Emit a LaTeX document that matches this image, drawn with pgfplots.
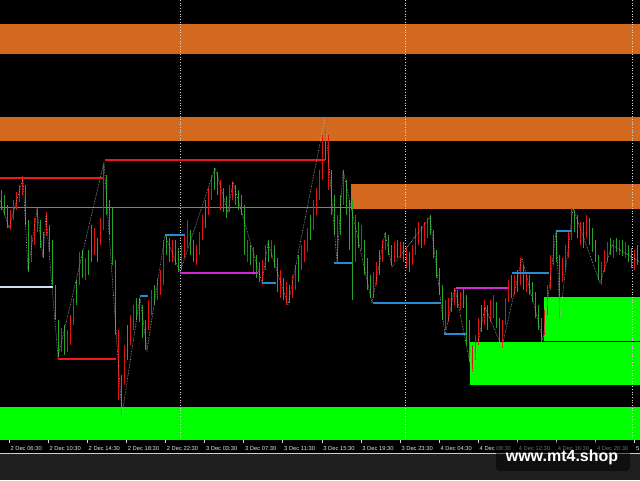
\documentclass[border=0pt]{standalone}
\usepackage{pgfplots}
\pgfplotsset{compat=1.18}
\usepackage{pgfplotstable}
\usepackage{fontspec}
\setmainfont{Liberation Sans}
\definecolor{orangeZ}{RGB}{210,105,30}
\definecolor{limeZ}{RGB}{0,255,0}
\definecolor{cRed}{RGB}{225,20,20}
\definecolor{cGreen}{RGB}{35,165,35}
\definecolor{lvlRed}{RGB}{235,25,25}
\definecolor{lvlBlue}{RGB}{40,140,210}
\definecolor{lvlMag}{RGB}{210,40,210}
\definecolor{lvlLight}{RGB}{200,225,235}
\definecolor{stripGray}{RGB}{31,31,31}

% candles: x, top (pixel y), bottom (pixel y), c=1 red / 0 green
\pgfplotstableread{
x t b c
1.5 190 210 0
4.5 195 215 0
7.5 205 228 0
10.5 210 230 1
13.5 200 220 1
16.5 192 210 1
19.5 185 202 1
22.5 176 195 1
25.5 185 225 0
28.5 220 272 0
31.5 235 262 1
34.5 218 245 1
37.5 208 232 1
40.5 220 248 0
43.5 232 258 0
46.5 212 236 1
49.5 225 252 0
52.5 240 285 0
55.5 285 320 0
58.5 320 357 0
61.5 328 352 1
64.5 325 355 0
67.5 330 352 1
70.5 315 345 1
73.5 298 325 1
76.5 280 305 0
79.5 252 285 1
82.5 250 278 0
85.5 258 280 1
88.5 250 275 0
91.5 225 262 0
94.5 228 255 1
97.5 238 262 0
100.5 218 245 1
103.5 165 230 1
106.5 175 215 0
109.5 200 235 0
112.5 207 265 0
115.5 260 335 0
118.5 330 400 1
121.5 375 415 0
124.5 345 385 1
127.5 325 360 0
130.5 315 345 1
133.5 305 330 1
136.5 298 320 0
139.5 298 322 0
142.5 305 338 0
145.5 320 350 0
148.5 300 330 1
151.5 290 315 1
154.5 285 305 0
157.5 278 300 1
160.5 270 295 1
163.5 240 285 1
166.5 235 255 0
169.5 238 262 0
172.5 240 262 1
175.5 240 265 0
178.5 248 272 0
181.5 245 270 1
184.5 235 258 1
187.5 220 248 1
190.5 230 255 0
193.5 240 262 0
196.5 245 265 1
199.5 232 255 1
202.5 215 240 1
205.5 200 228 0
208.5 188 215 1
211.5 175 200 1
214.5 168 190 0
217.5 172 195 0
220.5 180 210 1
223.5 188 212 0
226.5 196 218 0
229.5 185 212 1
232.5 182 200 1
235.5 185 205 0
238.5 190 210 0
241.5 195 215 0
244.5 205 255 0
247.5 240 262 1
250.5 245 265 0
253.5 247 275 1
256.5 255 278 0
259.5 262 282 0
262.5 260 285 1
265.5 245 270 1
268.5 240 262 0
271.5 240 258 1
274.5 245 268 0
277.5 258 292 0
280.5 270 298 1
283.5 278 300 0
286.5 282 305 1
289.5 285 303 0
292.5 275 298 1
295.5 265 290 1
298.5 255 282 0
301.5 245 270 1
304.5 240 262 1
307.5 228 252 1
310.5 215 240 0
313.5 200 230 1
316.5 188 215 1
319.5 170 200 1
322.5 135 180 1
325.5 118 160 0
328.5 135 190 1
331.5 170 215 0
334.5 195 235 0
337.5 215 262 1
340.5 195 235 0
343.5 170 205 1
346.5 180 215 0
349.5 200 250 0
352.5 200 300 0
355.5 215 262 1
358.5 222 248 0
361.5 225 250 1
364.5 240 275 0
367.5 258 290 0
370.5 275 298 0
373.5 272 298 1
376.5 262 285 1
379.5 250 275 0
382.5 240 262 1
385.5 232 250 1
388.5 235 255 0
391.5 245 265 0
394.5 242 262 1
397.5 240 258 0
400.5 242 258 1
403.5 242 262 0
406.5 248 268 1
409.5 252 272 0
412.5 245 265 1
415.5 228 255 1
418.5 222 245 1
421.5 226 248 0
424.5 222 245 1
427.5 218 238 1
430.5 215 235 0
433.5 230 258 0
436.5 250 278 0
439.5 268 295 0
442.5 285 320 0
445.5 300 330 1
448.5 298 322 1
451.5 292 312 0
454.5 288 305 1
457.5 290 308 0
460.5 292 310 1
463.5 288 308 0
466.5 295 345 0
469.5 320 362 0
472.5 345 372 1
475.5 335 360 1
478.5 318 345 1
481.5 305 332 0
484.5 300 325 1
487.5 305 330 0
490.5 300 322 1
493.5 295 318 1
496.5 302 328 0
499.5 318 342 0
502.5 320 348 1
505.5 298 325 1
508.5 280 302 1
511.5 275 298 0
514.5 275 295 1
517.5 270 292 0
520.5 258 285 1
523.5 265 290 0
526.5 272 292 1
529.5 275 295 0
532.5 282 302 0
535.5 292 318 0
538.5 305 330 0
541.5 318 342 0
544.5 310 335 1
547.5 285 315 1
550.5 255 290 1
553.5 235 265 1
556.5 232 262 0
559.5 255 318 0
562.5 258 282 1
565.5 245 270 1
568.5 232 258 1
571.5 208 240 1
574.5 210 232 0
577.5 215 238 0
580.5 222 245 1
583.5 222 248 0
586.5 215 238 1
589.5 218 245 0
592.5 228 252 0
595.5 240 262 0
598.5 255 280 0
601.5 262 285 1
604.5 250 272 1
607.5 242 262 1
610.5 238 255 0
613.5 240 258 1
616.5 238 252 0
619.5 240 255 1
622.5 240 256 0
625.5 242 258 1
628.5 245 262 0
631.5 248 268 0
634.5 250 270 1
637.5 245 265 0
}\candles

\begin{document}
\begin{tikzpicture}
% background of the window
\fill[black] (0,-13.5pt) rectangle (640pt,440pt);
\fill[stripGray] (0,-40pt) rectangle (640pt,-13.5pt);
\draw[white!80!black, line width=0.8pt] (0,-13.5pt) -- (640pt,-13.5pt);

\begin{axis}[
  at={(0,0)}, anchor=south west,
  scale only axis, width=640pt, height=440pt,
  xmin=0, xmax=640, ymin=0, ymax=440,
  y dir=reverse,
  clip=true,
  axis line style={draw=none},
  ytick=\empty,
  xtick={9,48.1,87.2,126.3,165.4,204.5,243.6,282.7,321.8,360.9,400,439.1,478.2,517.3,556.4,595.5,634.6},
  xticklabels={2 Dec 06:30,2 Dec 10:30,2 Dec 14:30,2 Dec 18:30,2 Dec 22:30,3 Dec 03:30,3 Dec 07:30,3 Dec 11:30,3 Dec 15:30,3 Dec 19:30,3 Dec 23:30,4 Dec 04:30,4 Dec 08:30,4 Dec 12:30,4 Dec 16:30,4 Dec 20:30,5 Dec 00:30},
  xtick pos=bottom,
  tick align=outside,
  major tick length=3pt,
  xtick style={white!85!black, line width=0.5pt},
  xticklabel style={font=\fontsize{5.8}{6.5}\selectfont, text=white!88!black, anchor=west, inner sep=0.5pt, xshift=0.8pt, yshift=-5.5pt},
]
% zones
\addplot[fill=orangeZ, draw=none] coordinates {(0,24) (640,24) (640,54) (0,54)} -- cycle;
\addplot[fill=orangeZ, draw=none] coordinates {(0,117) (640,117) (640,141) (0,141)} -- cycle;
\addplot[fill=orangeZ, draw=none] coordinates {(351,184) (640,184) (640,209) (351,209)} -- cycle;
\addplot[fill=limeZ, draw=none] coordinates {(0,407) (640,407) (640,440) (0,440)} -- cycle;
\addplot[fill=limeZ, draw=none] coordinates {(470,341.5) (640,341.5) (640,385) (470,385)} -- cycle;
\addplot[fill=limeZ, draw=none] coordinates {(544,297) (640,297) (640,340.5) (544,340.5)} -- cycle;
% day separators
\addplot[white!85!black, dotted, line width=0.7pt] coordinates {(180,0) (180,440)};
\addplot[white!85!black, dotted, line width=0.7pt] coordinates {(405,0) (405,440)};
\addplot[white!85!black, dotted, line width=0.7pt] coordinates {(632,0) (632,440)};
% grey horizontal line
\addplot[gray, line width=0.7pt] coordinates {(0,207) (640,207)};
% candles (high-low ranges)
\addplot[cGreen, line width=1.7pt, mark=none,
  quiver={u=0, v=\thisrow{b}-\thisrow{t}},
  restrict expr to domain={\thisrow{c}}{-0.5:0.5}]
  table[x=x, y=t] {\candles};
\addplot[cRed, line width=1.7pt, mark=none,
  quiver={u=0, v=\thisrow{b}-\thisrow{t}},
  restrict expr to domain={\thisrow{c}}{0.5:1.5}]
  table[x=x, y=t] {\candles};
% zigzag
\addplot[white!70!black, densely dotted, line width=0.6pt] coordinates {
(0,200) (9,228) (23,178) (28,270) (37,210) (43,257) (46,215) (58,357) (104,162)
(122,415) (140,297) (147,350) (165,235) (180,272) (215,168) (228,212) (233,182)
(262,283) (268,243) (288,305) (325,118) (337,262) (343,170) (372,303) (385,233)
(392,267) (430,217) (445,335) (455,288) (472,373) (485,307) (502,347) (522,258)
(543,340) (556,231) (560,317) (573,208) (600,283) (612,245) (640,262)};
% level lines
\addplot[lvlRed, line width=1.4pt] coordinates {(0,178) (103,178)};
\addplot[lvlRed, line width=1.4pt] coordinates {(105,160) (325,160)};
\addplot[lvlRed, line width=1.4pt] coordinates {(58,359) (116,359)};
\addplot[lvlLight, line width=1.6pt] coordinates {(0,287) (53,287)};
\addplot[lvlMag, line width=1.4pt] coordinates {(180,273) (258,273)};
\addplot[lvlMag, line width=1.4pt] coordinates {(456,288) (508,288)};
\addplot[lvlBlue, line width=1.4pt] coordinates {(165,235) (185,235)};
\addplot[lvlBlue, line width=1.4pt] coordinates {(140,296) (148,296)};
\addplot[lvlBlue, line width=1.4pt] coordinates {(334,263) (352,263)};
\addplot[lvlBlue, line width=1.4pt] coordinates {(262,283) (276,283)};
\addplot[lvlBlue, line width=1.4pt] coordinates {(373,303) (441,303)};
\addplot[lvlBlue, line width=1.4pt] coordinates {(444,334) (466,334)};
\addplot[lvlBlue, line width=1.4pt] coordinates {(512,273) (549,273)};
\addplot[lvlBlue, line width=1.4pt] coordinates {(556,231) (572,231)};
\end{axis}
% watermark
\fill[black, opacity=0.5, rounded corners=4pt] (496pt,-1pt) rectangle (630pt,-31pt);
\node[text=white, font=\bfseries\fontsize{16}{18}\selectfont] at (562pt,-17pt) {www.mt4.shop};
\pgfresetboundingbox
\path[use as bounding box] (0,-40pt) rectangle (640pt,440pt);
\end{tikzpicture}
\end{document}
